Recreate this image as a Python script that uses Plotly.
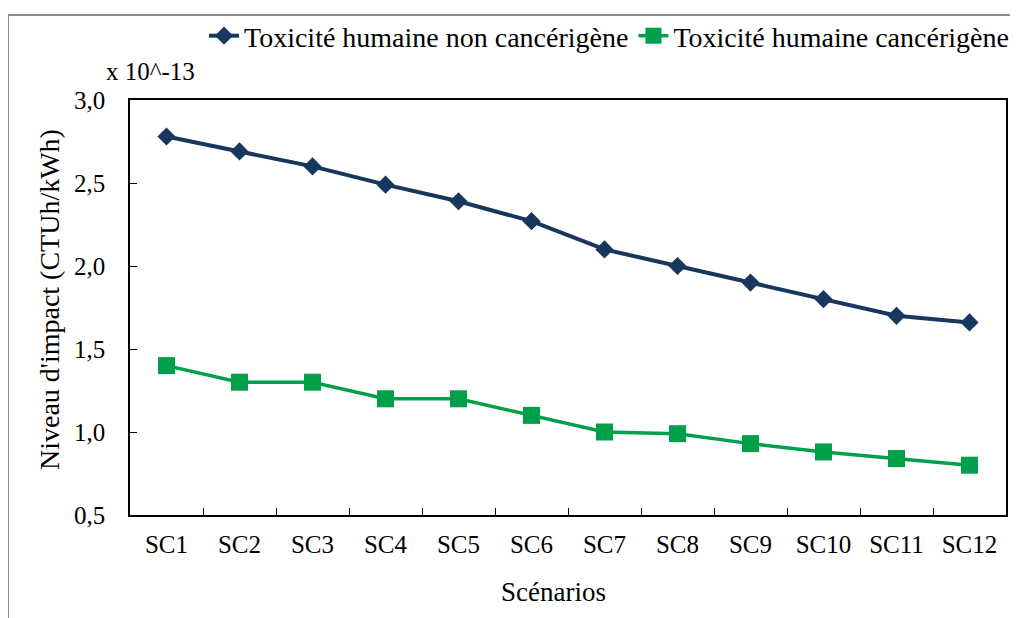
import plotly.graph_objects as go

scenarios = ["SC1", "SC2", "SC3", "SC4", "SC5", "SC6", "SC7", "SC8", "SC9", "SC10", "SC11", "SC12"]
non_cancer = [2.78, 2.69, 2.60, 2.49, 2.39, 2.27, 2.10, 2.00, 1.90, 1.80, 1.70, 1.66]
cancer = [1.40, 1.30, 1.30, 1.20, 1.20, 1.10, 1.00, 0.99, 0.93, 0.88, 0.84, 0.80]
series_names = ["Toxicité humaine non cancérigène", "Toxicité humaine cancérigène"]
y_ticks = [0.5, 1.0, 1.5, 2.0, 2.5, 3.0]

FONT = "Times New Roman, Liberation Serif, serif"
navy = "#17375e"
green = "#00a04a"

OFF = 8  # page body margin
W, H = 1018 - OFF, 618 - OFF
L, R, T, B = 130 - OFF, 12, 100 - OFF, 103
pw, ph = W - L - R, H - T - B

def px(x):
    return (x - OFF - L) / pw

def py(y):
    return (H - B - (y - OFF)) / ph

fig = go.Figure()
fig.add_trace(go.Scatter(x=scenarios, y=non_cancer, name=series_names[0], mode="lines+markers",
                         line=dict(color=navy, width=4),
                         marker=dict(symbol="diamond", size=14, color=navy)))
fig.add_trace(go.Scatter(x=scenarios, y=cancer, name=series_names[1], mode="lines+markers",
                         line=dict(color=green, width=3.5),
                         marker=dict(symbol="square", size=17, color=green)))

fig.update_layout(
    width=W, height=H,
    margin=dict(l=L, r=R, t=T, b=B, autoexpand=False),
    paper_bgcolor="white", plot_bgcolor="white",
    separators=", ",
    font=dict(family=FONT, size=25, color="black"),
    showlegend=True,
    legend=dict(orientation="h", x=px(1014), xanchor="right", y=py(36), yanchor="middle",
                font=dict(family=FONT, size=28, color="black"),
                itemwidth=30, tracegroupgap=0, bgcolor="rgba(0,0,0,0)"),
    xaxis=dict(type="category", range=[-0.5, 11.5], showline=True, linecolor="black", linewidth=1.5,
               mirror=True, ticks="inside", ticklen=7, tickcolor="black",
               tickson="boundaries", showgrid=False, zeroline=False,
               ticklabelstandoff=6, automargin=False,
               tickfont=dict(family=FONT, size=25)),
    yaxis=dict(range=[0.5, 3.0], tickvals=y_ticks, tickformat=".1f", showline=True,
               linecolor="black", linewidth=1.5, mirror=True, ticks="inside", ticklen=7,
               tickcolor="black", showgrid=False, zeroline=False,
               ticklabelstandoff=18, automargin=False,
               tickfont=dict(family=FONT, size=25)),
    shapes=[dict(type="rect", xref="paper", yref="paper",
                 x0=px(8), x1=px(1030), y0=py(640), y1=py(15),
                 line=dict(color="#8c8c8c", width=2), fillcolor="rgba(0,0,0,0)", layer="below")],
    annotations=[
        dict(text="x 10^-13", xref="paper", yref="paper", x=px(104), y=py(72),
             xanchor="left", yanchor="middle", showarrow=False,
             font=dict(family=FONT, size=25)),
        dict(text="Niveau d'impact (CTUh/kWh)", xref="paper", yref="paper", x=px(49), y=py(300),
             xanchor="center", yanchor="middle", textangle=-90, showarrow=False,
             font=dict(family=FONT, size=28)),
        dict(text="Scénarios", xref="paper", yref="paper", x=px(553), y=py(592),
             xanchor="center", yanchor="middle", showarrow=False,
             font=dict(family=FONT, size=27)),
    ],
)

fig.write_html("out.html")
